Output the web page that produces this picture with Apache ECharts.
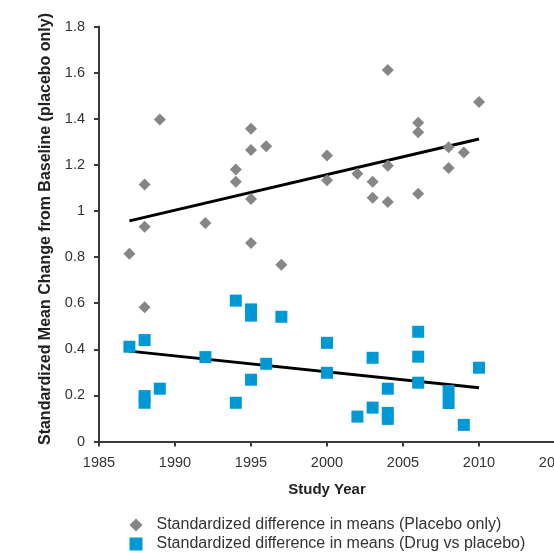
<!DOCTYPE html>
<html>
<head>
<meta charset="utf-8">
<script src="https://cdn.jsdelivr.net/npm/echarts@6/dist/echarts.min.js"></script>
<style>html,body{margin:0;padding:0;background:#fff}#c{width:554px;height:554px}</style>
</head>
<body>
<div id="c"></div>
<script>
// Placebo only (grey diamonds): [year, value]
var placeboYears = [1987,1988,1988,1988,1989,1992,1994,1994,1995,1995,1995,1995,1996,1997,2000,2000,2002,2003,2003,2004,2004,2004,2006,2006,2006,2008,2008,2009,2010];
var placeboValues = [0.814,1.115,0.931,0.582,1.397,0.948,1.180,1.127,1.356,1.264,1.052,0.861,1.281,0.767,1.241,1.133,1.161,1.127,1.057,1.611,1.196,1.039,1.382,1.341,1.075,1.276,1.186,1.254,1.472];
// Drug vs placebo (blue squares)
var drugYears = [1987,1988,1988,1988,1989,1992,1994,1994,1995,1995,1995,1996,1997,2000,2000,2002,2003,2003,2004,2004,2004,2006,2006,2006,2008,2008,2009,2010];
var drugValues = [0.411,0.440,0.197,0.168,0.229,0.366,0.611,0.168,0.573,0.546,0.268,0.337,0.541,0.428,0.298,0.108,0.363,0.147,0.229,0.124,0.098,0.476,0.368,0.255,0.219,0.167,0.072,0.320];
// Trend lines
var trendYears = [1987, 2010];
var placeboTrend = [0.957, 1.312];
var drugTrend = [0.392, 0.233];
var yTicks = [0,0.2,0.4,0.6,0.8,1,1.2,1.4,1.6,1.8];

function zip(a,b){return a.map(function(v,i){return [v,b[i]];});}

var chart = echarts.init(document.getElementById('c'), null, {renderer:'canvas'});
var font = '"Liberation Sans", Arial, Helvetica, sans-serif';
var axisCol = '#3a3a3a';
chart.setOption({
  animation:false,
  textStyle:{fontFamily:font},
  grid:{left:99, top:26.5, bottom:112.5, right:-1, containLabel:false, outerBoundsMode:'none'},
  xAxis:{
    type:'value', min:1985, max:2015, interval:5,
    name:'Study Year', nameLocation:'middle', nameGap:41,
    nameTextStyle:{fontFamily:font, fontSize:15, fontWeight:'bold', color:'#222'},
    axisLine:{lineStyle:{color:axisCol, width:2}},
    axisTick:{show:true, length:5, lineStyle:{color:axisCol, width:2}},
    axisLabel:{fontFamily:font, fontSize:14.5, color:'#333', margin:14, showMaxLabel:true, showMinLabel:true, hideOverlap:false,
      formatter:function(v){return String(v);}},
    splitLine:{show:false}
  },
  yAxis:{
    type:'value', min:0, max:1.8, interval:0.2,
    name:'Standardized Mean Change from Baseline (placebo only)', nameLocation:'middle', nameGap:43,
    nameTextStyle:{fontFamily:font, fontSize:16, fontWeight:'bold', color:'#222', padding:[0,0,0,10]},
    axisLine:{show:true, lineStyle:{color:axisCol, width:2}},
    axisTick:{show:true, length:5, lineStyle:{color:axisCol, width:2}},
    axisLabel:{fontFamily:font, fontSize:14.5, color:'#333', margin:14,
      formatter:function(v){return String(Math.round(v*10)/10);}},
    splitLine:{show:false}
  },
  legend:{
    orient:'vertical', left:129.5, top:517, padding:0, itemGap:3, itemWidth:13, itemHeight:13,
    textStyle:{fontFamily:font, fontSize:16, color:'#333', padding:[0,0,0,9]},
    data:[
      {name:'Standardized difference in means (Placebo only)', icon:'diamond'},
      {name:'Standardized difference in means (Drug vs placebo)', icon:'rect'}
    ]
  },
  series:[
    {name:'trendP', type:'line', data:zip(trendYears, placeboTrend), symbol:'none',
      lineStyle:{color:'#000', width:3}, z:1, silent:true},
    {name:'trendD', type:'line', data:zip(trendYears, drugTrend), symbol:'none',
      lineStyle:{color:'#000', width:3}, z:1, silent:true},
    {name:'Standardized difference in means (Placebo only)', type:'scatter', symbol:'diamond', symbolSize:12,
      itemStyle:{color:'#868686', opacity:1}, data:zip(placeboYears, placeboValues), z:3},
    {name:'Standardized difference in means (Drug vs placebo)', type:'scatter', symbol:'rect', symbolSize:12,
      itemStyle:{color:'#0099d6', opacity:1}, data:zip(drugYears, drugValues), z:3}
  ]
});
</script>
</body>
</html>
